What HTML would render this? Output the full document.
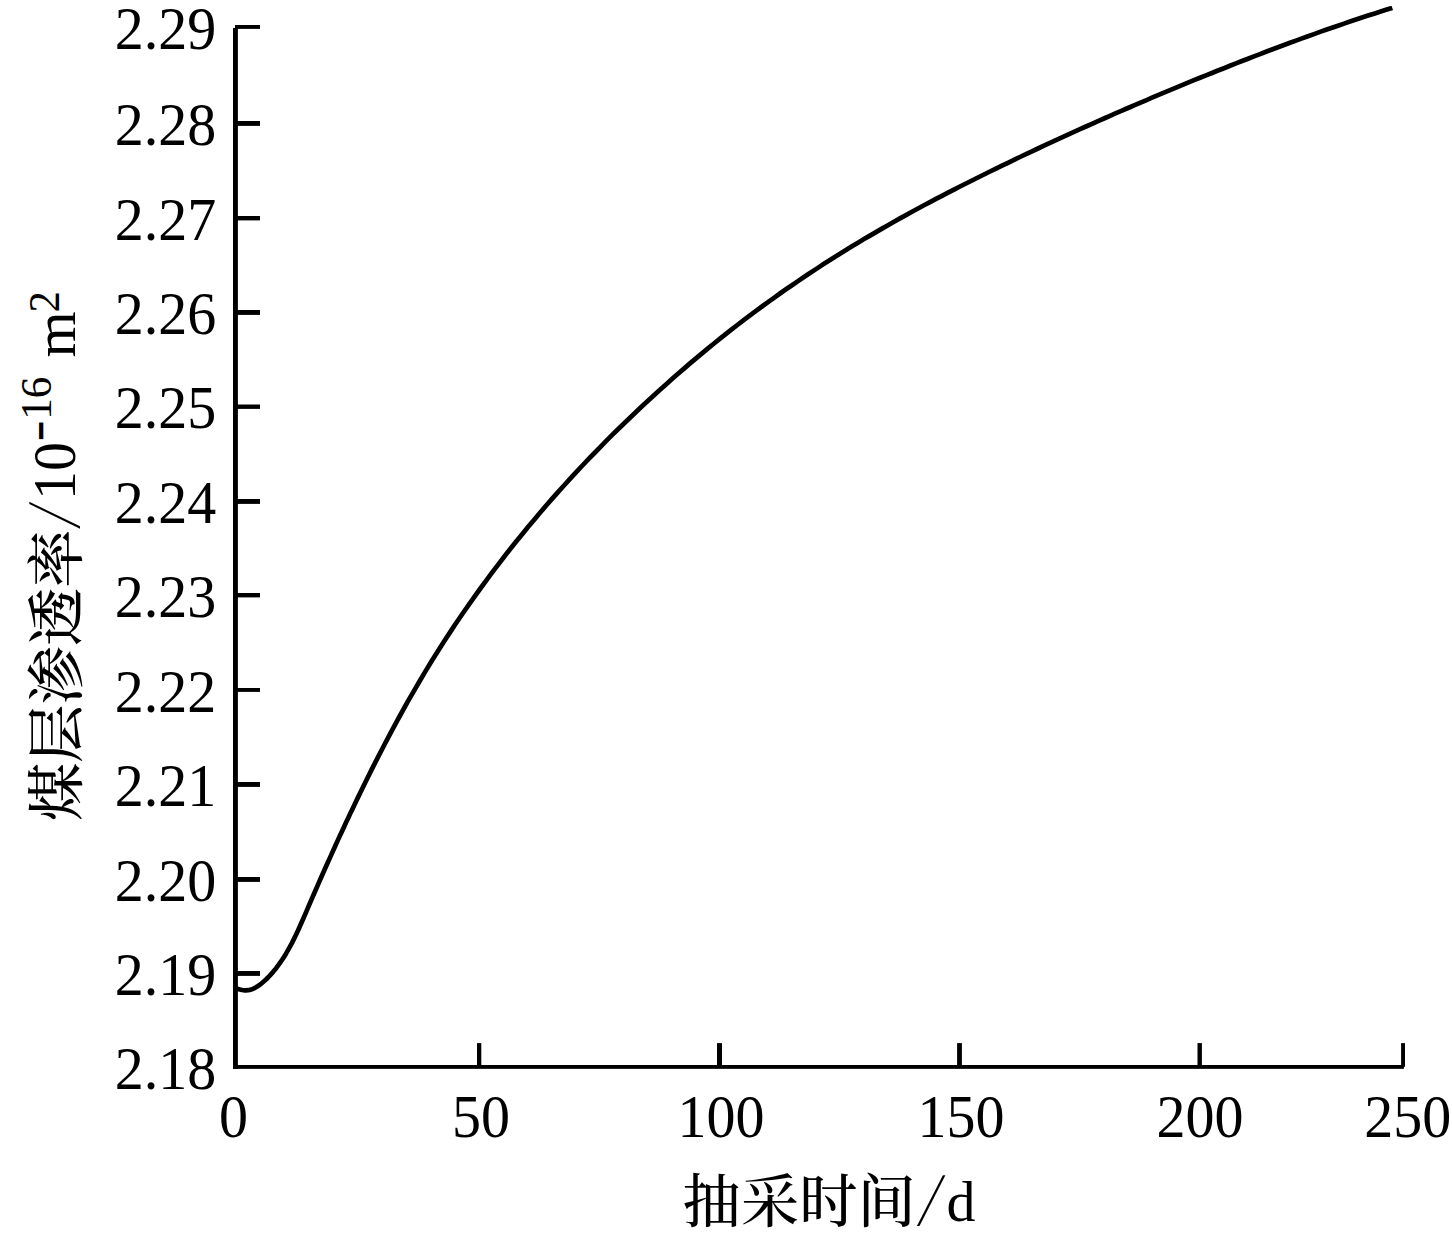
<!DOCTYPE html>
<html lang="zh"><head><meta charset="utf-8"><title>煤层渗透率</title>
<style>html,body{margin:0;padding:0;background:#fff}body{width:1452px;height:1240px;overflow:hidden}svg{display:block}text{font-family:"Liberation Serif","Noto Serif CJK SC",serif;fill:#000}.cjk{font-family:"Liberation Serif","Noto Serif CJK SC",serif;font-weight:500}.sl{font-family:"Noto Sans CJK SC","Liberation Sans",sans-serif;font-weight:100}.mn{font-family:"Liberation Sans",sans-serif;font-weight:bold}</style></head><body>
<svg width="1452" height="1240" viewBox="0 0 1452 1240">
<rect width="1452" height="1240" fill="#fff"/>
<rect x="233" y="28" width="4.9" height="1040.9" fill="#000"/>
<rect x="233" y="1065" width="1170.9" height="3.85" fill="#000"/>
<rect x="235" y="25" width="25" height="3.9" fill="#000"/>
<rect x="233" y="121" width="27" height="4.9" fill="#000"/>
<rect x="233" y="216" width="27" height="4.4" fill="#000"/>
<rect x="233" y="310" width="27" height="4.9" fill="#000"/>
<rect x="233" y="404.5" width="27" height="4.4" fill="#000"/>
<rect x="233" y="499" width="27" height="4.9" fill="#000"/>
<rect x="233" y="593" width="27" height="4.4" fill="#000"/>
<rect x="233" y="688" width="27" height="3.9" fill="#000"/>
<rect x="233" y="782" width="27" height="4.9" fill="#000"/>
<rect x="233" y="877" width="27" height="4.9" fill="#000"/>
<rect x="233" y="971" width="27" height="4.9" fill="#000"/>
<rect x="477.0" y="1043.1" width="4.3" height="24" fill="#000"/>
<rect x="717.0" y="1043.1" width="5.0" height="24" fill="#000"/>
<rect x="957.1" y="1043.1" width="4.8" height="24" fill="#000"/>
<rect x="1197.5" y="1043.1" width="4.4" height="24" fill="#000"/>
<rect x="1401.1" y="1043.1" width="3.9" height="23.7" fill="#000"/>
<path d="M236.0,988.9 L238.0,988.9 L240.0,989.5 L242.0,990.0 L244.0,990.3 L246.0,990.4 L248.0,990.2 L250.0,989.9 L252.0,989.2 L254.0,988.4 L256.0,987.3 L258.0,986.0 L260.0,984.6 L262.0,983.0 L264.0,981.3 L266.0,979.5 L268.0,977.5 L270.0,975.4 L272.0,973.2 L274.0,970.8 L276.0,968.4 L278.0,965.7 L280.0,962.9 L282.0,960.0 L284.0,956.9 L286.0,953.7 L288.0,950.2 L290.0,946.6 L292.0,942.9 L294.0,938.9 L296.0,934.7 L298.0,930.5 L300.0,926.0 L302.0,921.5 L304.0,917.0 L306.0,912.4 L308.0,907.7 L310.0,903.0 L312.0,898.4 L314.0,893.8 L316.0,889.2 L318.0,884.6 L320.0,880.0 L322.0,875.5 L324.0,871.0 L326.0,866.5 L328.0,862.0 L330.0,857.6 L332.0,853.1 L334.0,848.7 L336.0,844.3 L338.0,839.9 L340.0,835.6 L342.0,831.2 L344.0,826.9 L346.0,822.6 L348.0,818.4 L350.0,814.1 L352.0,809.9 L354.0,805.7 L356.0,801.5 L358.0,797.4 L360.0,793.2 L366.0,781.0 L372.0,768.9 L378.0,757.1 L384.0,745.5 L390.0,734.1 L396.0,722.9 L402.0,712.0 L408.0,701.2 L414.0,690.8 L420.0,680.5 L426.0,670.4 L432.0,660.6 L438.0,651.0 L444.0,641.6 L450.0,632.4 L456.0,623.3 L462.0,614.5 L468.0,605.8 L474.0,597.3 L480.0,589.0 L486.0,580.8 L492.0,572.7 L498.0,564.8 L504.0,557.0 L510.0,549.3 L516.0,541.8 L522.0,534.4 L528.0,527.1 L534.0,519.9 L540.0,512.8 L546.0,505.8 L552.0,498.9 L558.0,492.1 L564.0,485.5 L570.0,478.9 L576.0,472.4 L582.0,466.0 L588.0,459.7 L594.0,453.5 L600.0,447.3 L606.0,441.2 L612.0,435.2 L618.0,429.3 L624.0,423.5 L630.0,417.7 L636.0,412.0 L642.0,406.3 L648.0,400.7 L654.0,395.2 L660.0,389.8 L666.0,384.4 L672.0,379.0 L678.0,373.8 L684.0,368.6 L690.0,363.4 L696.0,358.4 L702.0,353.4 L708.0,348.4 L714.0,343.5 L720.0,338.7 L726.0,333.9 L732.0,329.2 L738.0,324.5 L744.0,319.9 L750.0,315.4 L756.0,310.9 L762.0,306.5 L768.0,302.1 L774.0,297.8 L780.0,293.5 L786.0,289.3 L792.0,285.2 L798.0,281.1 L804.0,277.0 L810.0,273.0 L816.0,269.1 L822.0,265.1 L828.0,261.3 L834.0,257.5 L840.0,253.7 L846.0,250.0 L852.0,246.3 L858.0,242.7 L864.0,239.1 L870.0,235.6 L876.0,232.1 L882.0,228.6 L888.0,225.2 L894.0,221.8 L900.0,218.4 L906.0,215.1 L912.0,211.8 L918.0,208.5 L924.0,205.3 L930.0,202.1 L936.0,198.9 L942.0,195.8 L948.0,192.7 L954.0,189.6 L960.0,186.5 L966.0,183.5 L972.0,180.5 L978.0,177.5 L984.0,174.5 L990.0,171.5 L996.0,168.6 L1002.0,165.7 L1008.0,162.8 L1014.0,159.9 L1020.0,157.0 L1026.0,154.2 L1032.0,151.3 L1038.0,148.5 L1044.0,145.7 L1050.0,142.9 L1056.0,140.1 L1062.0,137.4 L1068.0,134.6 L1074.0,131.9 L1080.0,129.2 L1086.0,126.5 L1092.0,123.8 L1098.0,121.1 L1104.0,118.5 L1110.0,115.8 L1116.0,113.2 L1122.0,110.6 L1128.0,108.0 L1134.0,105.4 L1140.0,102.8 L1146.0,100.3 L1152.0,97.7 L1158.0,95.2 L1164.0,92.7 L1170.0,90.2 L1176.0,87.7 L1182.0,85.2 L1188.0,82.7 L1194.0,80.2 L1200.0,77.8 L1206.0,75.4 L1212.0,73.0 L1218.0,70.5 L1224.0,68.2 L1230.0,65.8 L1236.0,63.4 L1242.0,61.0 L1248.0,58.7 L1254.0,56.4 L1260.0,54.1 L1266.0,51.8 L1272.0,49.5 L1278.0,47.3 L1284.0,45.0 L1290.0,42.8 L1296.0,40.6 L1302.0,38.4 L1308.0,36.2 L1314.0,34.1 L1320.0,31.9 L1326.0,29.8 L1332.0,27.7 L1338.0,25.7 L1344.0,23.6 L1350.0,21.6 L1356.0,19.6 L1362.0,17.6 L1368.0,15.6 L1374.0,13.7 L1380.0,11.8 L1386.0,9.8 L1392.0,8.0 L1392.3,7.9" fill="none" stroke="#000" stroke-width="4.7" stroke-linejoin="round" stroke-linecap="butt"/>
<text transform="translate(216.3,48.8) scale(1,1.05)" font-size="58" text-anchor="end">2.29</text>
<text transform="translate(216.3,145.2) scale(1,1.05)" font-size="58" text-anchor="end">2.28</text>
<text transform="translate(216.3,239.9) scale(1,1.05)" font-size="58" text-anchor="end">2.27</text>
<text transform="translate(216.3,334.2) scale(1,1.05)" font-size="58" text-anchor="end">2.26</text>
<text transform="translate(216.3,428.4) scale(1,1.05)" font-size="58" text-anchor="end">2.25</text>
<text transform="translate(216.3,523.2) scale(1,1.05)" font-size="58" text-anchor="end">2.24</text>
<text transform="translate(216.3,617.0) scale(1,1.05)" font-size="58" text-anchor="end">2.23</text>
<text transform="translate(216.3,711.7) scale(1,1.05)" font-size="58" text-anchor="end">2.22</text>
<text transform="translate(216.3,806.2) scale(1,1.05)" font-size="58" text-anchor="end">2.21</text>
<text transform="translate(216.3,901.2) scale(1,1.05)" font-size="58" text-anchor="end">2.20</text>
<text transform="translate(216.3,995.2) scale(1,1.05)" font-size="58" text-anchor="end">2.19</text>
<text transform="translate(216.3,1088.5) scale(1,1.05)" font-size="58" text-anchor="end">2.18</text>
<text transform="translate(233.6,1136.6) scale(1,1.05)" font-size="58" text-anchor="middle">0</text>
<text transform="translate(481.0,1136.6) scale(1,1.05)" font-size="58" text-anchor="middle">50</text>
<text transform="translate(720.9,1136.6) scale(1,1.05)" font-size="58" text-anchor="middle">100</text>
<text transform="translate(960.9,1136.6) scale(1,1.05)" font-size="58" text-anchor="middle">150</text>
<text transform="translate(1199.9,1136.6) scale(1,1.05)" font-size="58" text-anchor="middle">200</text>
<text transform="translate(1407.7,1136.6) scale(1,1.05)" font-size="58" text-anchor="middle">250</text>
<text transform="translate(682.6,1222.3) scale(1,1)" font-size="58.3" class="cjk">抽采时间</text>
<text transform="translate(916.3,1217.0) scale(1.28,0.915)" font-size="58" class="sl">/</text>
<text transform="translate(946.5,1221.3) scale(1,1.0)" font-size="58">d</text>
<g transform="translate(75.3,820) rotate(-90)">
<text transform="translate(-1.0,1.2) scale(1,1)" font-size="58.3" class="cjk">煤层渗透率</text>
<text transform="translate(290.7,-4.4) scale(1.21,0.913)" font-size="58" class="sl">/</text>
<text transform="translate(320.0,0.0) scale(1,1.05)" font-size="58">10</text>
<text transform="translate(379.5,-21.4) scale(0.77,0.9)" font-size="43" class="mn">−</text>
<text transform="translate(400.2,-24.1) scale(1,1.05)" font-size="43">16</text>
<text transform="translate(462.6,0.0) scale(1,1)" font-size="59.5">m</text>
<text transform="translate(507.6,-16.4) scale(1,1.05)" font-size="43">2</text>
</g>
</svg></body></html>
